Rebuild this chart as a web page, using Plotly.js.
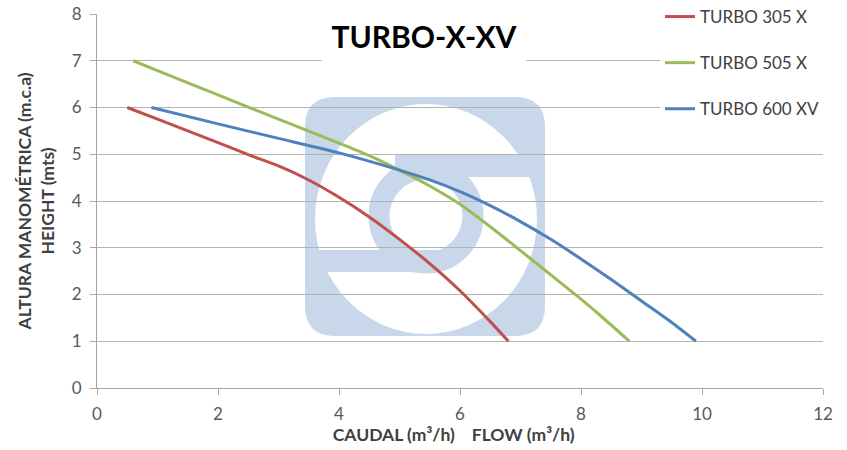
<!DOCTYPE html>
<html>
<head>
<meta charset="utf-8">
<script src="https://cdn.plot.ly/plotly-3.0.1.min.js"></script>
<style>html,body{margin:0;padding:0;background:#fff;}#chart{width:847px;height:450px;}</style>
</head>
<body>
<div id="chart"></div>
<script>
// ---- data ----
const seriesNames = ["TURBO 305 X", "TURBO 505 X", "TURBO 600 XV"];
const flow305 = [0.5, 1, 2, 2.5, 3, 3.5, 4, 4.5, 5, 5.5, 6, 6.5, 6.8];
const head305 = [6, 5.75, 5.25, 4.99, 4.75, 4.45, 4.08, 3.66, 3.18, 2.66, 2.08, 1.42, 1];
const flow505 = [0.6, 1, 2, 3, 4, 4.5, 5, 5.5, 6, 6.5, 7, 7.5, 8, 8.4, 8.8];
const head505 = [7, 6.79, 6.27, 5.75, 5.24, 4.97, 4.66, 4.32, 3.93, 3.45, 2.94, 2.42, 1.9, 1.46, 1];
const flow600 = [0.9, 2, 3, 4, 5, 5.5, 6, 6.5, 7, 7.5, 8, 8.5, 9, 9.5, 9.9];
const head600 = [6, 5.65, 5.34, 5.03, 4.66, 4.45, 4.2, 3.9, 3.56, 3.18, 2.76, 2.32, 1.86, 1.4, 1];
const xTicks = [0, 2, 4, 6, 8, 10, 12];
const yTicks = [0, 1, 2, 3, 4, 5, 6, 7, 8];
const colors = ["#c0504d", "#9bbb59", "#4f81bd"];

// ---- layout geometry ----
const W = 847, H = 450;
const M = {l: 97, r: 24, t: 14, b: 62, autoexpand: false};
const xr = [0, 12], yr = [0, 8];
const pw = W - M.l - M.r, ph = H - M.t - M.b;
const dx = px => xr[0] + (px - M.l) / pw * (xr[1] - xr[0]);
const dy = py => yr[0] + (H - M.b - py) / ph * (yr[1] - yr[0]);

// watermark logo (decoration)
const logoBlue = "#c8d8ea";
function roundRect(x0, y0, x1, y1, r) {
  const rx = r / pw * 12, ry = r / ph * 8;
  const X0 = dx(x0), X1 = dx(x1), Y0 = dy(y0), Y1 = dy(y1);
  return `M${X0 + rx},${Y0} L${X1 - rx},${Y0} Q${X1},${Y0} ${X1},${Y0 - ry} L${X1},${Y1 + ry} Q${X1},${Y1} ${X1 - rx},${Y1} L${X0 + rx},${Y1} Q${X0},${Y1} ${X0},${Y1 + ry} L${X0},${Y0 - ry} Q${X0},${Y0} ${X0 + rx},${Y0} Z`;
}
const shapes = [
  {type: "path", path: roundRect(305, 97, 545, 336, 30), fillcolor: logoBlue, line: {width: 0}, layer: "below"},
  {type: "circle", x0: dx(315), x1: dx(537), y0: dy(104), y1: dy(334), fillcolor: "#ffffff", line: {width: 0}, layer: "below"},
  {type: "rect", x0: dx(395), x1: dx(545), y0: dy(155), y1: dy(177), fillcolor: logoBlue, line: {width: 0}, layer: "below"},
  {type: "rect", x0: dx(315), x1: dx(438), y0: dy(250), y1: dy(272), fillcolor: logoBlue, line: {width: 0}, layer: "below"},
  {type: "circle", x0: dx(426 - 47), x1: dx(426 + 47), y0: dy(216 - 47), y1: dy(216 + 47), fillcolor: "rgba(0,0,0,0)", line: {width: 21, color: logoBlue}, layer: "below"}
];

const flows = [flow305, flow505, flow600];
const heads = [head305, head505, head600];
const traces = seriesNames.map((n, i) => ({
  type: "scatter", mode: "lines", name: n, x: flows[i], y: heads[i],
  line: {color: colors[i], width: 3, shape: "spline", smoothing: 0.6},
  legendgroup: "g" + i, hoverinfo: "skip"
}));

const font = "Lato, 'Open Sans', 'Liberation Sans', sans-serif";
const layout = {
  width: W, height: H,
  margin: M,
  paper_bgcolor: "#ffffff", plot_bgcolor: "#ffffff",
  font: {family: font, color: "#404040"},
  showlegend: true,
  legend: {
    x: (660 - M.l) / pw, y: 1 + (M.t + 1) / ph, xanchor: "left", yanchor: "top",
    bgcolor: "#ffffff", borderwidth: 0, traceorder: "grouped", tracegroupgap: 21,
    font: {size: 17, color: "#404040", family: font}
  },
  xaxis: {
    range: xr, tickvals: xTicks, ticktext: xTicks.map(String),
    showgrid: false, zeroline: false, showline: true, linecolor: "#a6a6a6", linewidth: 1,
    ticks: "outside", ticklen: 6, tickcolor: "#a6a6a6", ticklabelstandoff: 5,
    tickfont: {size: 17, color: "#595959"},
    title: {text: "<b>CAUDAL (m³/h)    FLOW (m³/h)&nbsp;&nbsp;&nbsp;</b>", font: {size: 17.5, color: "#404040"}, standoff: 4}
  },
  yaxis: {
    range: yr, tickvals: yTicks, ticktext: yTicks.map(String),
    showgrid: true, gridcolor: "#b3b3b3", gridwidth: 1,
    zeroline: false, showline: true, linecolor: "#a6a6a6", linewidth: 1,
    ticks: "outside", ticklen: 6, tickcolor: "#a6a6a6", ticklabelstandoff: 5,
    tickfont: {size: 17, color: "#595959"},
    title: {text: "<b>ALTURA MANOMÉTRICA (m.c.a)<br>HEIGHT (mts)</b>", font: {size: 17.5, color: "#404040"}, standoff: 12}
  },
  shapes: shapes,
  annotations: [{
    text: "<b>TURBO-X-XV</b>", xref: "x", yref: "y", x: dx(424), y: dy(36),
    showarrow: false, font: {size: 30, color: "#000000", family: font},
    bgcolor: "#ffffff", width: 202, height: 56, xanchor: "center", yanchor: "middle"
  }]
};

Plotly.newPlot("chart", traces, layout, {displayModeBar: false, staticPlot: true});
</script>
</body>
</html>
